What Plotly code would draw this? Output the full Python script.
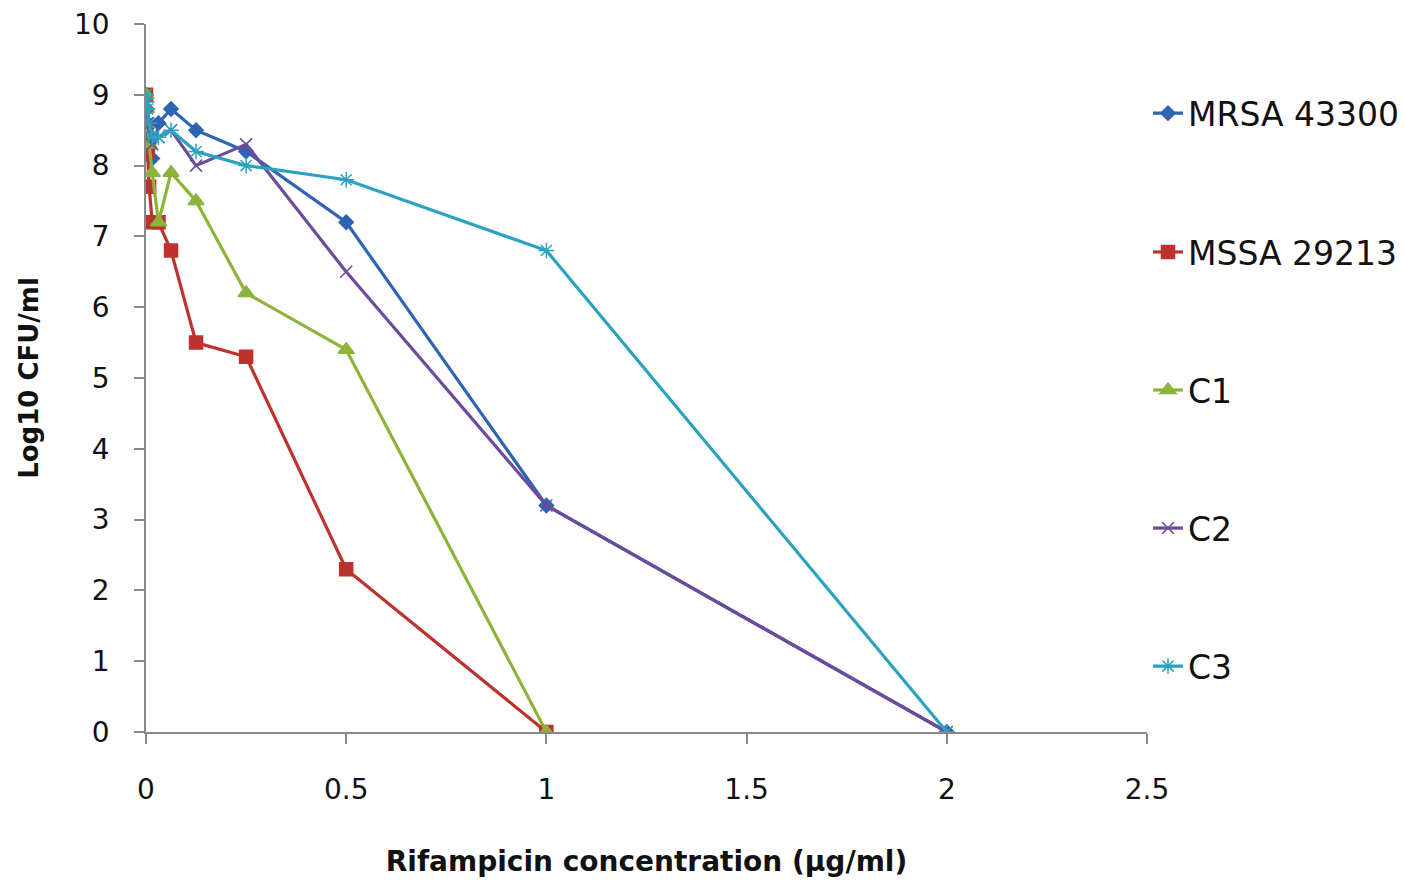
import plotly.graph_objects as go

conc = [0, 0.00195, 0.0039, 0.0078, 0.0156, 0.03125, 0.0625, 0.125, 0.25, 0.5, 1, 2]

mrsa = [9.0, 8.8, 8.6, 8.4, 8.1, 8.6, 8.8, 8.5, 8.2, 7.2, 3.2, 0]
mssa = [9.0, 8.5, 8.2, 7.7, 7.2, 7.2, 6.8, 5.5, 5.3, 2.3, 0]
c1 = [9.0, 8.8, 8.5, 8.3, 7.9, 7.2, 7.9, 7.5, 6.2, 5.4, 0]
c2 = [8.9, 8.7, 8.6, 8.5, 8.3, 8.4, 8.5, 8.0, 8.3, 6.5, 3.2, 0]
c3 = [9.0, 8.9, 8.8, 8.6, 8.4, 8.4, 8.5, 8.2, 8.0, 7.8, 6.8, 0]

names = ["MRSA 43300", "MSSA 29213", "C1", "C2", "C3"]
series = [mrsa, mssa, c1, c2, c3]
colors = ["#2F64B3", "#BE322E", "#8DB33B", "#6D4B9C", "#2BA2C0"]
symbols = ["diamond", "square", "triangle-up", "x-thin-open", "asterisk-open"]
sizes = [11, 13, 14, 12, 13]
legend_y = [0.874, 0.678, 0.483, 0.288, 0.093]

fig = go.Figure()
for i, (n, ys) in enumerate(zip(names, series)):
    lg = "legend" if i == 0 else f"legend{i+1}"
    fig.add_trace(go.Scatter(
        x=conc[:len(ys)], y=ys, name=n, mode="lines+markers",
        line=dict(color=colors[i], width=3.2),
        marker=dict(symbol=symbols[i], size=sizes[i], color=colors[i],
                    line=dict(color=colors[i], width=1.5)),
        legend=lg,
    ))

layout_legends = {}
for i in range(5):
    key = "legend" if i == 0 else f"legend{i+1}"
    layout_legends[key] = dict(
        x=1.001, y=legend_y[i], xanchor="left", yanchor="middle",
        font=dict(size=33, family="DejaVu Sans", color="#111"),
        bgcolor="rgba(0,0,0,0)", borderwidth=0,
        itemwidth=30, tracegroupgap=0,
    )

fig.update_layout(
    width=1397, height=874,
    margin=dict(l=138, r=258, t=16, b=150, autoexpand=False),
    paper_bgcolor="white", plot_bgcolor="white",
    showlegend=True,
    **layout_legends,
)

fig.update_xaxes(
    range=[0, 2.5], tickvals=[0, 0.5, 1, 1.5, 2, 2.5],
    ticktext=["0", "0.5", "1", "1.5", "2", "2.5"],
    showgrid=False, zeroline=False, showline=True, linecolor="#888", linewidth=1.5,
    ticks="outside", ticklen=10, tickcolor="#888", tickwidth=1.5,
    ticklabelstandoff=22, automargin=False, ticklabeloverflow="allow",
    tickfont=dict(size=28, family="DejaVu Sans", color="#111"),
    title=dict(text="<b>Rifampicin concentration (µg/ml)</b>",
               font=dict(size=28, family="DejaVu Sans", color="#111"), standoff=46),
)
fig.update_yaxes(
    range=[0, 10], tickvals=[0, 1, 2, 3, 4, 5, 6, 7, 8, 9, 10],
    showgrid=False, zeroline=False, showline=True, linecolor="#888", linewidth=1.5,
    ticks="outside", ticklen=10, tickcolor="#888", tickwidth=1.5,
    ticklabelstandoff=19, automargin=False, ticklabeloverflow="allow",
    tickfont=dict(size=28, family="DejaVu Sans", color="#111"),
    title=dict(text="<b>Log10 CFU/ml</b>",
               font=dict(size=26, family="DejaVu Sans", color="#111"), standoff=28),
)

fig.write_html("out.html")
